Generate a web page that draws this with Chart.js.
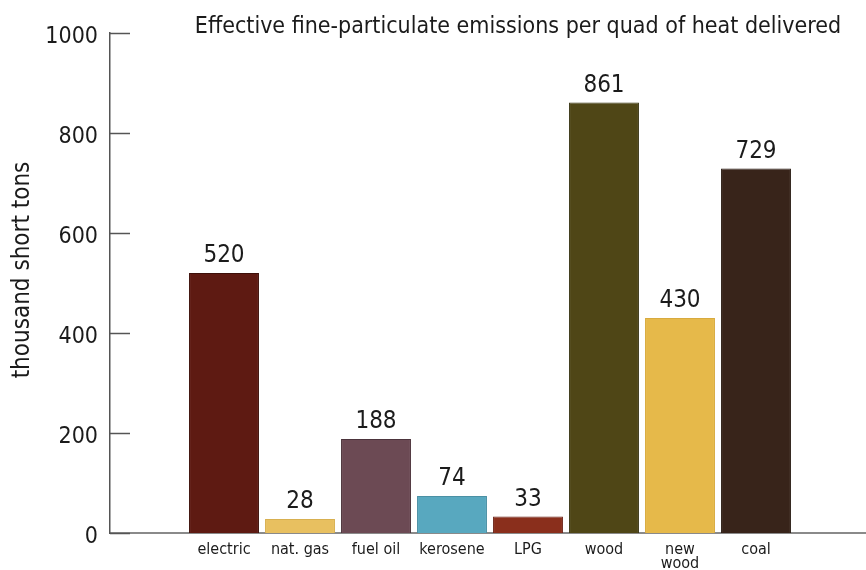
<!DOCTYPE html>
<html>
<head>
<meta charset="utf-8">
<script src="https://cdn.jsdelivr.net/npm/chart.js@4.4.1/dist/chart.umd.min.js"></script>
<style>
  html, body { margin: 0; padding: 0; background: #ffffff; overflow: hidden; }
  #wrap { width: 866px; height: 570px; position: relative; overflow: hidden; }
</style>
</head>
<body>
<div id="wrap"><canvas id="c" width="870" height="570"></canvas></div>
<script>
const chartTitle = 'Effective fine-particulate emissions per quad of heat delivered';
const yAxisTitle = 'thousand short tons';
const categories = ['electric', 'nat. gas', 'fuel oil', 'kerosene', 'LPG', 'wood', ['new', 'wood'], 'coal'];
const emissions = [520, 28, 188, 74, 33, 861, 430, 729];
const barColors = ['#5e1a12', '#e8c060', '#6c4a54', '#58a8bf', '#8a2f1c', '#4f4616', '#e6b94a', '#38241a'];
const barBorders = ['#3e100a', '#d8b050', '#4c343c', '#4a90a4', '#6a2014', '#34300e', '#d8aa3e', '#24160e'];
const yTicks = [0, 200, 400, 600, 800, 1000];

const FONT = '"Liberation Sans Narrow", "DejaVu Sans Condensed", "Roboto", sans-serif';
const TEXT = '#1b1b1b';

// empty slot on each side of the categories
const labels = [''].concat(categories, ['']);
const values = [null].concat(emissions, [null]);
const colors = ['rgba(0,0,0,0)'].concat(barColors, ['rgba(0,0,0,0)']);
const borders = ['rgba(0,0,0,0)'].concat(barBorders, ['rgba(0,0,0,0)']);

const decorPlugin = {
  id: 'decor',
  afterDatasetsDraw(chart) {
    const ctx = chart.ctx;
    const y = chart.scales.y;
    const area = chart.chartArea;
    ctx.save();
    // inward tick marks on y axis
    ctx.strokeStyle = '#555';
    ctx.lineWidth = 1.5;
    yTicks.forEach(v => {
      const py = Math.round(y.getPixelForValue(v)) + 0.5;
      ctx.beginPath();
      ctx.moveTo(area.left, py);
      ctx.lineTo(area.left + 20, py);
      ctx.stroke();
    });
    // value labels
    ctx.fillStyle = TEXT;
    ctx.font = '24px ' + FONT;
    ctx.textAlign = 'center';
    ctx.textBaseline = 'bottom';
    const meta = chart.getDatasetMeta(0);
    meta.data.forEach((bar, i) => {
      const v = values[i];
      if (v === null) return;
      ctx.fillText(String(v), bar.x, bar.y - 5);
    });
    // chart title
    ctx.font = '23px ' + FONT;
    ctx.textAlign = 'center';
    ctx.textBaseline = 'middle';
    ctx.fillText(chartTitle, 518, 27);
    // y axis title
    ctx.translate(23, 270);
    ctx.rotate(-Math.PI / 2);
    ctx.font = '24px ' + FONT;
    ctx.fillText(yAxisTitle, 0, 0);
    ctx.restore();
  }
};

new Chart(document.getElementById('c'), {
  type: 'bar',
  data: {
    labels: labels,
    datasets: [{
      data: values,
      backgroundColor: colors,
      borderColor: borders,
      borderWidth: 1,
      barPercentage: 0.92,
      categoryPercentage: 1.0
    }]
  },
  options: {
    responsive: false,
    animation: false,
    devicePixelRatio: 1,
    layout: { padding: { top: 33, right: 0, left: 0, bottom: 0 } },
    plugins: {
      legend: { display: false },
      tooltip: { enabled: false },
      title: { display: false }
    },
    scales: {
      x: {
        grid: { display: false, drawTicks: false },
        border: { display: true, color: '#8a8a8a', width: 2 },
        ticks: {
          color: TEXT,
          font: { family: FONT, size: 16, lineHeight: 0.85 },
          padding: 10,
          maxRotation: 0,
          autoSkip: false
        },
        afterFit(scale) { scale.height = 37; }
      },
      y: {
        min: 0,
        max: 1000,
        grid: { display: false, drawTicks: false },
        border: { display: true, color: '#555', width: 1.5 },
        ticks: {
          stepSize: 200,
          color: TEXT,
          font: { family: FONT, size: 23 },
          padding: 12,
          labelOffset: 4,
          callback: (v) => String(v)
        },
        afterFit(scale) { scale.width = 110; }
      }
    }
  },
  plugins: [decorPlugin]
});
</script>
</body>
</html>
